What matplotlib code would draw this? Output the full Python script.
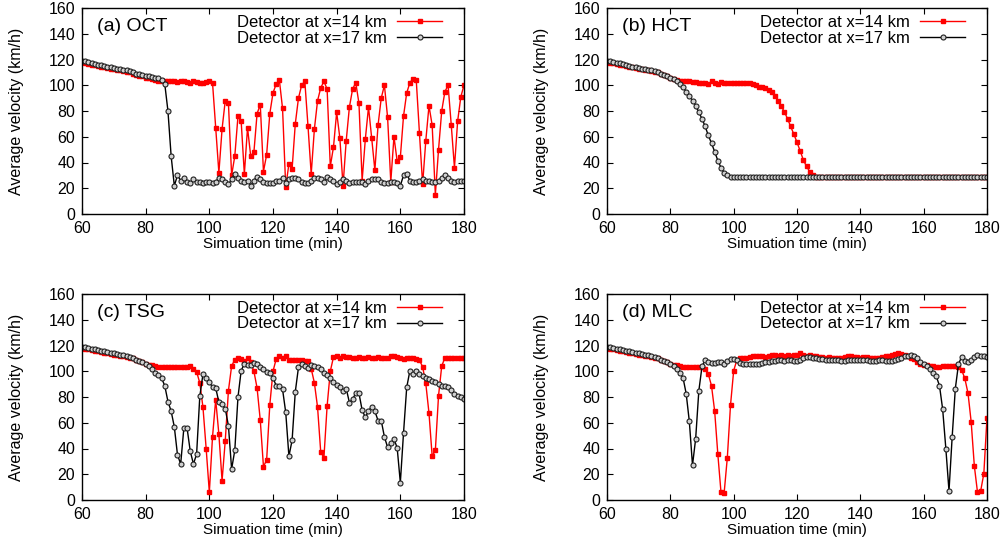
import numpy as np
import matplotlib
matplotlib.use("Agg")
import matplotlib.pyplot as plt

plt.rcParams['font.family'] = ['Liberation Sans', 'DejaVu Sans']

# simulation time, one sample per minute
t = np.arange(60, 181)

# (a) OCT
oct_14 = [118, 117, 116.5, 116, 115.5, 115, 114.5, 114, 113.5, 113,
          112.5, 112, 111.5, 111, 110.5, 110, 109, 108, 107.5, 107,
          106, 105.5, 105, 104, 103.5, 103, 103, 103, 103, 103,
          102.5, 103, 103, 102.5, 102, 103, 102.5, 102, 102, 102.5,
          103, 102, 67, 32, 66, 88, 86, 30, 45, 76,
          72, 31, 67, 45, 48, 78, 85, 33, 46, 78,
          94, 101, 104, 82, 21, 39, 35, 70, 90, 100,
          103, 68, 31, 66, 88, 98, 103, 97, 37, 52,
          79, 59, 22, 57, 83, 97, 102, 86, 26, 58,
          83, 59, 34, 69, 90, 100, 75, 25, 60, 41,
          44, 76, 94, 102, 105, 104, 63, 23, 57, 84,
          69, 15, 50, 80, 95, 100, 69, 36, 72, 91,
          100]
oct_17 = [119, 118.5, 118, 117, 116.5, 116, 115.5, 115, 114.5, 114,
          113.5, 113, 112.5, 112, 112, 111, 110, 109, 108.5, 108,
          107.5, 107, 106.5, 106, 105.5, 104, 101, 80, 45, 22,
          30, 26, 28, 25, 24, 27, 25, 25, 24, 25,
          25, 24, 25, 28, 27, 25, 23, 27, 31, 28,
          26, 25, 26, 22, 26, 29, 27, 25, 24, 24,
          24, 26, 26, 28, 24, 27, 28, 28, 27, 25,
          24, 24, 26, 28, 28, 27, 25, 29, 27, 26,
          23, 25, 27, 26, 24, 25, 25, 25, 25, 23,
          26, 27, 27, 27, 25, 24, 24, 25, 25, 24,
          22, 30, 31, 26, 25, 25, 26, 27, 26, 26,
          25, 25, 26, 28, 30, 28, 26, 25, 26, 26,
          26]

# (b) HCT
hct_14 = [118, 117.5, 117, 116.5, 116, 115.5, 115, 114.5, 114, 113.5,
          113, 112.5, 112, 111.5, 111, 110.5, 110, 109, 108, 107,
          106, 105, 104, 103.5, 103, 103, 103, 102.5, 102.5, 102,
          102, 102, 101, 103, 102, 101, 102.5, 102, 102, 102,
          102, 102, 102, 102, 102, 101.5, 101, 100, 99, 98.4,
          97.7, 96, 94.5, 92, 88, 83.7, 79.5, 74, 68, 62,
          55.7, 49, 42, 37, 33, 30, 29, 28.5, 28.5, 28.5,
          28.5, 28.5, 28.5, 28.5, 28.5, 28.5, 28.5, 28.5, 28.5, 28.5,
          28.5, 28.5, 28.5, 28.5, 28.5, 28.5, 28.5, 28.5, 28.5, 28.5,
          28.5, 28.5, 28.5, 28.5, 28.5, 28.5, 28.5, 28.5, 28.5, 28.5,
          28.5, 28.5, 28.5, 28.5, 28.5, 28.5, 28.5, 28.5, 28.5, 28.5,
          28.5, 28.5, 28.5, 28.5, 28.5, 28.5, 28.5, 28.5, 28.5, 28.5,
          28.5]
hct_17 = [119, 118.5, 118, 117.5, 117, 116.5, 116, 115, 114.5, 114,
          113.5, 113, 112.5, 112, 111.5, 111, 110, 109, 108, 107,
          106, 105, 103.6, 101, 98.4, 95, 92, 88, 84, 79,
          74, 68, 61, 55, 48.4, 41.5, 36, 32, 30, 29,
          28.5, 28.5, 28.5, 28.5, 28.5, 28.5, 28.5, 28.5, 28.5, 28.5,
          28.5, 28.5, 28.5, 28.5, 28.5, 28.5, 28.5, 28.5, 28.5, 28.5,
          28.5, 28.5, 28.5, 28.5, 28.5, 28.5, 28.5, 28.5, 28.5, 28.5,
          28.5, 28.5, 28.5, 28.5, 28.5, 28.5, 28.5, 28.5, 28.5, 28.5,
          28.5, 28.5, 28.5, 28.5, 28.5, 28.5, 28.5, 28.5, 28.5, 28.5,
          28.5, 28.5, 28.5, 28.5, 28.5, 28.5, 28.5, 28.5, 28.5, 28.5,
          28.5, 28.5, 28.5, 28.5, 28.5, 28.5, 28.5, 28.5, 28.5, 28.5,
          28.5, 28.5, 28.5, 28.5, 28.5, 28.5, 28.5, 28.5, 28.5, 28.5,
          28.5]

# (c) TSG
tsg_14 = [118, 117.5, 117, 116.5, 116, 115.5, 115, 114.5, 114, 113.5,
          113, 112.5, 112, 111.5, 111, 110.5, 110, 109, 108, 107,
          106, 105, 104.5, 104, 103.5, 103, 103, 103, 103, 103,
          103, 103, 103, 103.5, 104, 102, 99.6, 91, 72, 40,
          6, 49, 78, 51, 15, 46, 85, 104, 109, 110.5,
          109.5, 108, 110, 107, 100, 87, 62, 26, 31, 74,
          100, 109.5, 112, 110.5, 111.5, 109, 109, 108.5, 108.5, 109,
          108, 108, 102, 91, 72, 37, 33, 73, 100, 111,
          112, 110.5, 111.5, 111, 111, 110, 110.5, 111, 110, 110.5,
          111, 110.5, 110.5, 111, 110.5, 110, 110, 112, 112, 111,
          110, 109.5, 110, 110, 110, 109.5, 108.5, 103.5, 90.5, 67.5,
          34, 38.5, 81, 104, 110.5, 110.5, 110.5, 110.5, 110, 110.5,
          110]
tsg_17 = [119, 118.5, 118, 117.5, 117, 116.5, 116, 115.5, 115, 114.5,
          114, 113.5, 113, 112.5, 112, 111, 110, 109, 108, 107,
          106, 104, 102, 99, 97, 94.7, 88.7, 76.5, 69, 56.8,
          35, 28, 56, 56, 38, 28, 35.5, 80.4, 97.8, 95,
          92, 87.4, 87, 76, 74.4, 71, 57.6, 24, 38.6, 80,
          100.4, 106, 105, 105, 106.3, 105.5, 103.5, 101.4, 99.8, 98.5,
          95, 88.7, 88.7, 86, 68, 34, 46.4, 84, 103, 105.5,
          104, 102.4, 105, 103.7, 103, 102, 98.5, 96.7, 94.4, 91.8,
          89.2, 88, 85, 86.6, 75.7, 78.3, 83, 83, 69.8, 64.3,
          69, 72.6, 69, 61.7, 61.7, 49, 41, 44, 47.2, 40.7,
          13.5, 52, 87.4, 100.4, 97.8, 100, 97.5, 96, 95, 94,
          92.8, 91.3, 90, 88.2, 88.2, 87.4, 85.6, 82.2, 81, 80,
          78.3]

# (d) MLC
mlc_14 = [118, 117.5, 117, 116.5, 116, 115.5, 115, 114.5, 114, 113.5,
          113, 112.5, 112, 111.5, 111, 110.5, 110, 109, 108, 107,
          106, 105, 104.5, 104, 103.5, 103, 103, 103, 103, 103,
          103, 102, 97.8, 88.7, 69, 35.5, 6, 5.7, 33, 73.6,
          100.4, 108.7, 110, 110, 110.5, 111, 111.5, 111.5, 112, 111.5,
          111, 111.5, 112.5, 112.5, 112, 112.5, 112, 112.5, 112, 112.5,
          113, 113.8, 113, 112, 112.5, 112, 111.5, 111, 111, 110.5,
          111, 110.5, 110.5, 110, 110.5, 111, 112, 111.5, 111, 111,
          110.5, 111, 111, 110.5, 110, 110, 110.5, 111, 111.5, 112,
          113, 113.5, 114, 113.5, 113, 112, 110.5, 109.5, 107, 106,
          105, 104.5, 104, 103.7, 103.5, 103.5, 103.7, 103.7, 104, 103.7,
          104, 103, 101, 94.4, 83, 60.7, 26.5, 6, 7, 20.5,
          64]
mlc_17 = [119, 118.5, 118, 117.5, 117, 116.5, 116, 115.5, 115, 114.5,
          114, 113.5, 113, 112.5, 112, 111, 110, 109, 108, 107,
          105.5, 103.7, 101.7, 98.3, 95, 82.7, 61, 27, 47.7, 84.8,
          103.7, 109, 107.4, 106.3, 106.3, 107.4, 106.8, 106, 108, 109.4,
          109.4, 109, 106.5, 106, 105.5, 105.5, 105.5, 106, 106, 106.5,
          107, 107.5, 108, 108, 108.5, 108.5, 108, 108.5, 108.5, 108,
          107.6, 108.5, 110, 110.7, 110.7, 110, 110, 109.4, 109.5, 109,
          109, 108.5, 108.5, 108.5, 108, 108, 108.5, 109, 109, 109,
          109, 109, 108.5, 108, 108, 108, 108.5, 108.5, 108, 108,
          108, 108.5, 109.5, 110.5, 111.5, 112, 112.5, 112, 110, 107.4,
          105.5, 103.7, 101.7, 99, 96, 88.7, 70.5, 40, 7, 49,
          86.6, 105.5, 111.3, 108, 107.4, 109, 110.7, 112.5, 112, 111.5,
          110.7]

panels = [
    ("(a) OCT", oct_14, oct_17),
    ("(b) HCT", hct_14, hct_17),
    ("(c) TSG", tsg_14, tsg_17),
    ("(d) MLC", mlc_14, mlc_17),
]

W, H = 1004, 556
fig = plt.figure(figsize=(W / 100, H / 100), dpi=100)

# axes boxes in pixels: left, top, right, bottom
boxes = [(82, 8, 464, 214), (607, 8, 987, 214),
         (82, 294, 464, 500), (607, 294, 987, 500)]

fs = 11
for (title, v14, v17), (l, tp, r, b) in zip(panels, boxes):
    ax = fig.add_axes([l / W, 1 - b / H, (r - l) / W, (b - tp) / H])
    ax.plot(t, v14, color='red', lw=1, marker='s', ms=3.2, mec='red',
            mfc='red', label='Detector at x=14 km')
    ax.plot(t, v17, color='black', lw=1, marker='o', ms=3.6, mec='#202020',
            mfc='#d0d0d0', mew=0.8, label='Detector at x=17 km')
    ax.set_xlim(60, 180)
    ax.set_ylim(0, 160)
    ax.set_xticks(range(60, 181, 20))
    ax.set_yticks(range(0, 161, 20))
    ax.tick_params(direction='in', length=4, top=True, right=True,
                   labelsize=11.5, pad=5)
    for s in ax.spines.values():
        s.set_linewidth(1)
    ax.set_xlabel('Simuation time (min)', fontsize=fs)
    ax.set_ylabel('Average velocity (km/h)', fontsize=11.5)
    ax.xaxis.set_label_coords(0.5, -0.11)
    ax.yaxis.set_label_coords(-0.152, 0.5)
    ax.text(0.04, 0.91, title, transform=ax.transAxes, fontsize=14,
            va='center', ha='left')
    ax.legend(loc='upper right', bbox_to_anchor=(0.96, 1.0), frameon=False,
              markerfirst=False, numpoints=1, handlelength=2.7,
              fontsize=12, borderaxespad=0.2, borderpad=0.2,
              labelspacing=0.05, handletextpad=0.6)

fig.savefig('out.png', dpi=100)
